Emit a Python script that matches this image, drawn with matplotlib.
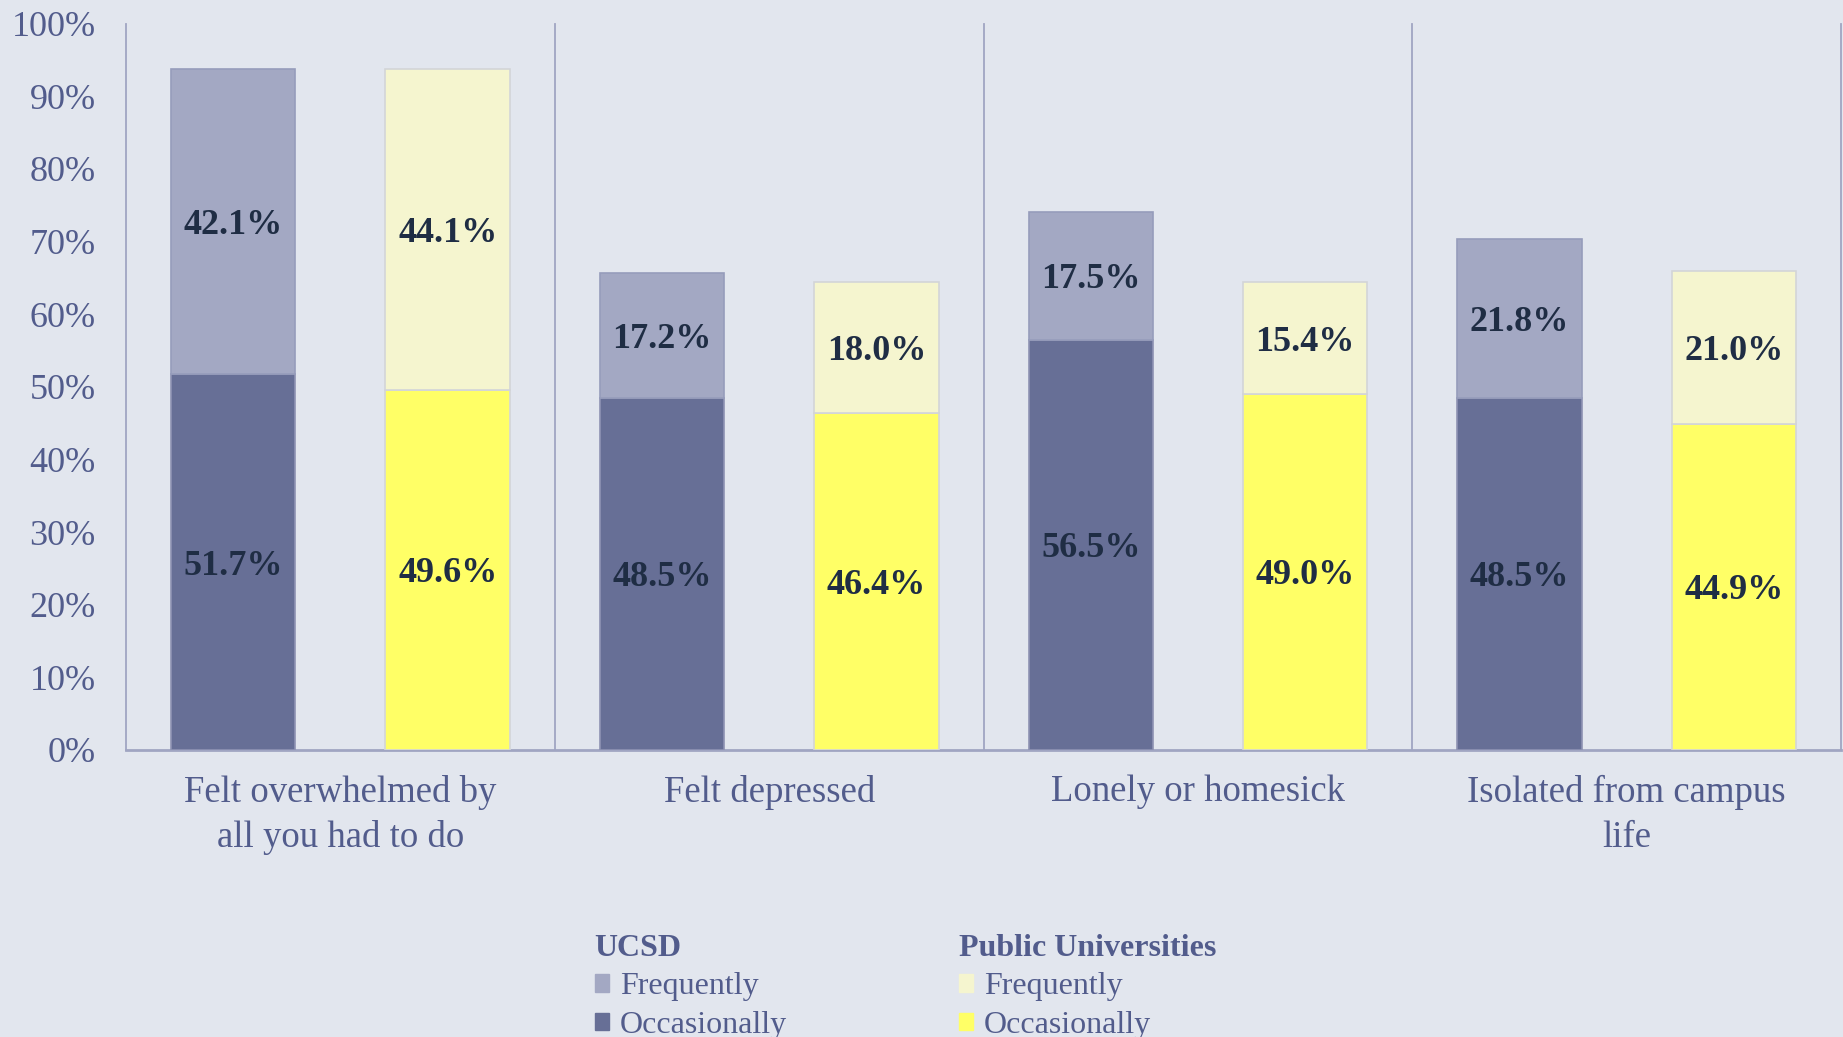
import numpy as np
import matplotlib
matplotlib.use('Agg')
import matplotlib.pyplot as plt
from matplotlib.patches import Patch

categories = ['Felt overwhelmed by\nall you had to do', 'Felt depressed',
              'Lonely or homesick', 'Isolated from campus\nlife']
ucsd_occ = [51.7, 48.5, 56.5, 48.5]
ucsd_freq = [42.1, 17.2, 17.5, 21.8]
pub_occ = [49.6, 46.4, 49.0, 44.9]
pub_freq = [44.1, 18.0, 15.4, 21.0]
yticks = list(range(0, 101, 10))

bg = '#E2E6EE'
ucsd_freq_c = '#A3A8C3'
ucsd_occ_c = '#676F96'
pub_freq_c = '#F5F5CF'
pub_occ_c = '#FFFF66'
axis_text = '#525C8C'
label_c = '#1F2D44'
line_c = '#A0A5C2'

plt.rcParams['font.family'] = ['Liberation Serif', 'DejaVu Serif']

fig = plt.figure(figsize=(18.43, 10.37), dpi=100, facecolor=bg)
ax = fig.add_axes([0.0684, 0.2768, 0.9306, 0.7005])
ax.set_facecolor(bg)

x = np.arange(len(categories))
w = 0.29
off = 0.25

ax.bar(x - off, ucsd_occ, w, color=ucsd_occ_c, edgecolor='#8E93B3', linewidth=1.2, zorder=3)
ax.bar(x - off, ucsd_freq, w, bottom=ucsd_occ, color=ucsd_freq_c, edgecolor='#969CBB', linewidth=1.2, zorder=3)
ax.bar(x + off, pub_occ, w, color=pub_occ_c, edgecolor='#D3D5D8', linewidth=1.2, zorder=3)
ax.bar(x + off, pub_freq, w, bottom=pub_occ, color=pub_freq_c, edgecolor='#D3D5D8', linewidth=1.2, zorder=3)

lab_kw = dict(ha='center', va='center_baseline', fontsize=26, fontweight='bold', color=label_c, zorder=4)
for i in range(len(categories)):
    ax.text(x[i] - off, ucsd_occ[i] / 2, f'{ucsd_occ[i]:.1f}%', **lab_kw)
    ax.text(x[i] - off, ucsd_occ[i] + ucsd_freq[i] / 2, f'{ucsd_freq[i]:.1f}%', **lab_kw)
    ax.text(x[i] + off, pub_occ[i] / 2, f'{pub_occ[i]:.1f}%', **lab_kw)
    ax.text(x[i] + off, pub_occ[i] + pub_freq[i] / 2, f'{pub_freq[i]:.1f}%', **lab_kw)

# group separators
for xs in np.arange(0.5, len(categories), 1.0):
    ax.plot([xs, xs], [0, 100], color=line_c, linewidth=1.3, zorder=2, clip_on=False)

ax.set_xlim(-0.5, len(categories) - 0.5)
ax.set_ylim(0, 100)
ax.set_yticks(yticks)
ax.set_yticklabels([f'{t}%' for t in yticks], fontsize=26, color=axis_text)
ax.set_xticks(x)
ax.set_xticklabels(categories, fontsize=26.5, color=axis_text, linespacing=1.38)
ax.tick_params(axis='both', length=0)
ax.tick_params(axis='x', pad=18)
ax.tick_params(axis='y', pad=22)

for s in ['top', 'right']:
    ax.spines[s].set_visible(False)
ax.spines['left'].set_color(line_c)
ax.spines['left'].set_linewidth(1.3)
ax.spines['bottom'].set_color(line_c)
ax.spines['bottom'].set_linewidth(2)

# legends
h1 = [Patch(color=ucsd_freq_c), Patch(color=ucsd_occ_c)]
h2 = [Patch(color=pub_freq_c), Patch(color=pub_occ_c)]
leg_kw = dict(frameon=False, fontsize=23, handlelength=0.45, handleheight=0.45,
              handletextpad=0.35, labelspacing=0.3, alignment='left',
              labelcolor=axis_text, borderpad=0)
leg1 = fig.legend(h1, ['Frequently', 'Occasionally'], title='UCSD',
                  loc='upper left', bbox_to_anchor=(0.314, 0.115), **leg_kw)
leg2 = fig.legend(h2, ['Frequently', 'Occasionally'], title='Public Universities',
                  loc='upper left', bbox_to_anchor=(0.5115, 0.115), **leg_kw)
for lg in (leg1, leg2):
    t = lg.get_title()
    t.set_fontsize(23)
    t.set_fontweight('bold')
    t.set_color(axis_text)

fig.savefig('out.png', dpi=100, facecolor=bg)
